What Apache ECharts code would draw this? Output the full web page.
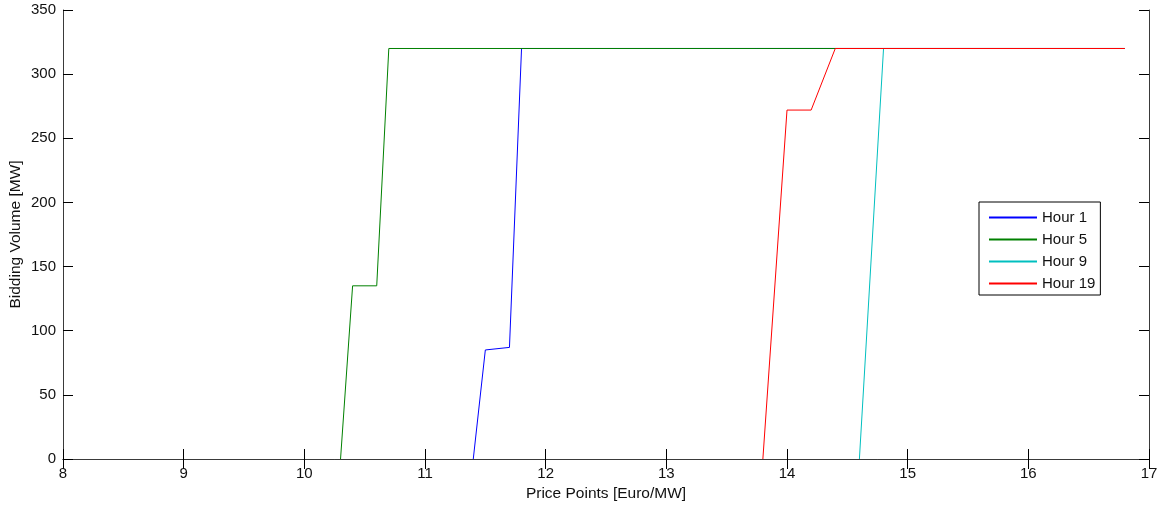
<!DOCTYPE html>
<html>
<head>
<meta charset="utf-8">
<script src="https://cdn.jsdelivr.net/npm/echarts@6/dist/echarts.min.js"></script>
<style>html,body{margin:0;padding:0;background:#fff;}#c{width:1161px;height:506px;}</style>
</head>
<body>
<div id="c"></div>
<script>
// Data (curves drawn from where they leave the zero axis)
const seriesNames = ['Hour 1', 'Hour 5', 'Hour 9', 'Hour 19'];
const hour1Price  = [11.4, 11.5, 11.7, 11.8, 16.8];
const hour1Volume = [0, 85, 87, 320, 320];
const hour5Price  = [10.3, 10.4, 10.6, 10.7, 16.8];
const hour5Volume = [0, 135, 135, 320, 320];
const hour9Price  = [14.6, 14.8, 16.8];
const hour9Volume = [0, 320, 320];
const hour19Price  = [13.8, 14.0, 14.2, 14.4, 16.8];
const hour19Volume = [0, 272, 272, 320, 320];
const xTicks = [8, 9, 10, 11, 12, 13, 14, 15, 16, 17];
const yTicks = [0, 50, 100, 150, 200, 250, 300, 350];

const colors = ['#0000ff', '#008000', '#00bfbf', '#ff0000'];
const prices = [hour1Price, hour5Price, hour9Price, hour19Price];
const volumes = [hour1Volume, hour5Volume, hour9Volume, hour19Volume];
const font = "'Liberation Sans', Arial, sans-serif";

function pairs(xs, ys) { return xs.map((x, i) => [x, ys[i]]); }

const axisLineStyle = { color: '#3a3a3a', width: 1 };
const tickStyle = { show: true, inside: true, length: 10, lineStyle: { color: '#000', width: 1 } };

const chart = echarts.init(document.getElementById('c'), null, { renderer: 'canvas' });
chart.setOption({
  animation: false,
  backgroundColor: '#fff',
  grid: { left: 63, right: 12, top: 10, bottom: 47, containLabel: false, outerBoundsMode: 'none' },
  legend: {
    orient: 'vertical',
    left: 979,
    top: 202,
    data: seriesNames,
    backgroundColor: '#fff',
    borderColor: '#000',
    borderWidth: 1,
    borderRadius: 0,
    padding: [8, 5, 4, 9],
    itemWidth: 48,
    itemHeight: 15,
    itemGap: 7,
    itemStyle: { opacity: 0 },
    textStyle: { fontFamily: font, fontSize: 15, color: '#111' },
    z: 20
  },
  xAxis: [{
    type: 'value', min: xTicks[0], max: xTicks[xTicks.length - 1], interval: 1,
    position: 'bottom', z: 10,
    name: 'Price Points [Euro/MW]', nameLocation: 'middle', nameGap: 26,
    nameTextStyle: { fontFamily: font, fontSize: 15.5, color: '#111' },
    axisLine: { show: true, lineStyle: axisLineStyle },
    axisTick: tickStyle,
    axisLabel: { fontFamily: font, fontSize: 15, color: '#111', margin: 7 },
    splitLine: { show: false }
  }, {
    type: 'value', min: xTicks[0], max: xTicks[xTicks.length - 1], interval: 1,
    position: 'top', z: 10,
    axisLine: { show: true, lineStyle: axisLineStyle },
    axisTick: tickStyle,
    axisLabel: { show: false },
    splitLine: { show: false }
  }],
  yAxis: [{
    type: 'value', min: yTicks[0], max: yTicks[yTicks.length - 1], interval: 50,
    position: 'left', z: 10,
    name: 'Bidding Volume [MW]', nameLocation: 'middle', nameGap: 39, nameMoveOverlap: false,
    nameTextStyle: { fontFamily: font, fontSize: 15.5, color: '#111' },
    axisLine: { show: true, lineStyle: axisLineStyle },
    axisTick: tickStyle,
    axisLabel: { fontFamily: font, fontSize: 15, color: '#111', margin: 7 },
    splitLine: { show: false }
  }, {
    type: 'value', min: yTicks[0], max: yTicks[yTicks.length - 1], interval: 50,
    position: 'right', z: 10,
    axisLine: { show: true, lineStyle: axisLineStyle },
    axisTick: tickStyle,
    axisLabel: { show: false },
    splitLine: { show: false }
  }],
  series: seriesNames.map((name, i) => ({
    name: name,
    type: 'line',
    xAxisIndex: 0,
    yAxisIndex: 0,
    data: pairs(prices[i], volumes[i]),
    symbol: 'none',
    showSymbol: false,
    color: colors[i],
    lineStyle: { color: colors[i], width: 1 },
    emphasis: { disabled: true }
  }))
});
</script>
</body>
</html>
